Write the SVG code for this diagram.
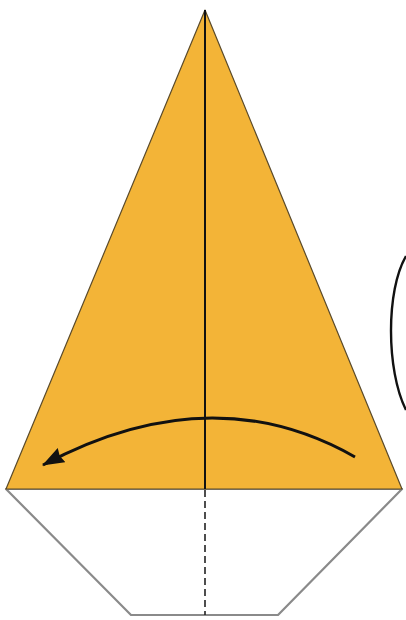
<svg xmlns="http://www.w3.org/2000/svg" width="406" height="620" viewBox="0 0 406 620">
<style>
.paper{fill:#F3B437;stroke:#5a4a2a;stroke-width:1.2;stroke-linejoin:round}
.white{fill:#ffffff;stroke:#8a8a8a;stroke-width:2.2;stroke-linejoin:round}
.crease{stroke:#111;stroke-width:2;fill:none}
.valley{stroke:#222;stroke-width:1.6;stroke-dasharray:7,4;fill:none}
.arrow{stroke:#111;stroke-width:3;fill:none}
</style>
<defs>
<marker id="ah" markerWidth="22" markerHeight="16" refX="21" refY="8" orient="auto" markerUnits="userSpaceOnUse" viewBox="0 0 22 16">
<path d="M0,0 L22,8 L0,16 L2,8 Z" fill="#111"/>
</marker>
</defs>
<g id="bottom-flap">
<path class="white" d="M6,489 L131,615 L278,615 L402,489 Z"/>
</g>
<g id="triangle">
<path class="paper" d="M205,10 L402,489 L6,489 Z"/>
</g>
<g id="connectors">
<line class="crease" x1="205" y1="10" x2="205" y2="489"/>
<line class="valley" x1="205" y1="490" x2="205" y2="615"/>
<path class="arrow" d="M355,457 Q211,375 43,465" marker-end="url(#ah)"/>
<path d="M406,256 C386,290 386,370 406,410" stroke="#111" stroke-width="2.4" fill="none"/>
</g>
</svg>
